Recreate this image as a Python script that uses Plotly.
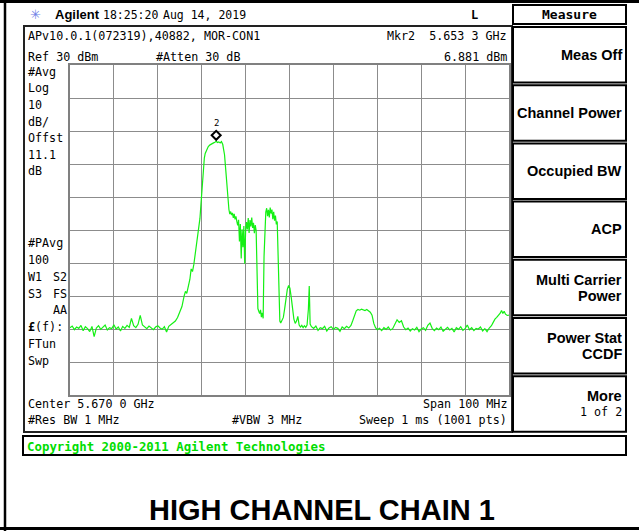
import plotly.graph_objects as go

W, H = 639, 531

start_mhz = 5620.0          # center 5.670 GHz, span 100 MHz
stop_mhz = 5720.0
ref_dbm = 30
bottom_dbm = -70
mkr_mhz = 5653.3
mkr_dbm = 6.881

# trace segments: offset from start (MHz) and level (dBm)
floor_a_mhz = [0, 0.5, 1, 1.5, 2, 2.5, 3, 3.5, 4, 4.5, 5, 5.5, 6, 6.5, 7, 7.5, 8, 8.5, 9, 9.5,
               10, 10.5, 11, 11.5, 12, 12.5, 13, 13.5, 14, 14.5, 15, 15.5, 16, 16.5, 17, 17.5,
               18, 18.5, 19, 19.5, 20, 20.5, 21, 21.5, 22, 22.5]
floor_a_dbm = [-49.6, -49.1, -50.2, -49.4, -49.8, -48.9, -50.5, -49.3, -49.9, -50.8, -49.2, -52.3,
               -49.7, -49.0, -50.1, -49.5, -48.8, -50.3, -49.6, -49.9, -48.7, -50.0, -49.4, -50.6,
               -49.2, -49.8, -48.9, -49.5, -46.8, -49.0, -49.6, -48.6, -45.9, -48.8, -49.3, -49.9,
               -49.1, -49.6, -50.2, -49.4, -49.0, -49.7, -50.1, -49.3, -50.9, -49.2]

carrier_mhz = [23, 23.5, 24, 24.5, 25, 25.5, 26, 26.3, 26.6, 27, 27.3, 27.6, 27.9, 28.2, 28.5,
               28.8, 29.1, 29.4, 29.6, 29.8, 30, 30.2, 30.4, 30.6, 30.8, 31.1, 31.5, 31.9, 32.3,
               32.7, 33, 33.3, 33.6, 33.9, 34.2, 34.5, 34.8, 35, 35.2, 35.4, 35.6, 35.8]
carrier_dbm = [-48.7, -48.3, -47.6, -46.5, -45.0, -43.2, -40.0, -38.6, -39.2, -37.2, -35.0, -31.8,
               -32.6, -30.5, -27.6, -25.0, -22.6, -19.5, -16.5, -12.8, -8.6, -4.2, -1.0, 1.8, 3.2,
               4.4, 5.3, 5.8, 6.2, 6.4, 6.6, 6.88, 6.5, 6.7, 6.4, 6.8, 5.9, 4.5, 2.8, -0.5, -4.0, -7.8]

burst_mhz = [36, 36.2, 36.4, 36.6, 36.8, 37, 37.2, 37.4, 37.6, 37.8, 38, 38.2, 38.4, 38.6, 38.8,
             39, 39.2, 39.4, 39.6, 39.8, 40, 40.2, 40.4, 40.6, 40.8, 41, 41.2, 41.4, 41.6, 41.8,
             42, 42.2, 42.4, 42.6, 42.8, 43, 43.2, 43.4, 43.6, 43.8, 44, 44.2, 44.4, 44.6, 44.8,
             45, 45.2, 45.4, 45.6, 45.8, 46, 46.2, 46.4, 46.6, 46.8, 47, 47.2, 47.4, 47.6, 47.8]
burst_dbm = [-11.5, -13.8, -15.2, -14.4, -15.5, -14.8, -16.3, -15.1, -16.8, -15.9, -17.4, -18.6,
             -16.9, -23.5, -18.2, -28.6, -19.8, -25.2, -18.8, -30.2, -20.4, -17.6, -19.8, -16.4,
             -20.9, -17.0, -18.9, -16.2, -19.4, -17.8, -21.0, -18.5, -20.2, -30.5, -43.8, -44.6,
             -45.3, -44.2, -46.4, -45.1, -46.8, -28.0, -17.0, -14.6, -13.4, -15.8, -13.9, -16.2,
             -13.2, -15.0, -13.8, -16.7, -14.5, -17.2, -15.6, -18.3, -17.4, -30.0, -44.5, -47.6]

tail_mhz = [48, 48.3, 48.6, 48.9, 49.2, 49.5, 49.8, 50.1, 50.4, 50.7, 51, 51.3, 51.6, 51.9, 52.2,
            52.5, 52.8, 53.1, 53.4, 53.7, 54, 54.3, 54.5, 54.7, 55]
tail_dbm = [-48.2, -47.0, -46.5, -43.8, -40.8, -38.0, -36.8, -37.6, -40.5, -44.8, -47.0, -48.3,
            -47.6, -46.2, -48.8, -49.4, -48.9, -49.6, -49.0, -49.5, -48.8, -44.0, -37.0, -48.5, -49.3]

floor_b_mhz = [55.5, 56, 56.5, 57, 57.5, 58, 58.5, 59, 59.5, 60, 60.5, 61, 61.5, 62, 62.5, 63, 63.5]
floor_b_dbm = [-49.8, -49.1, -50.4, -49.6, -49.9, -49.2, -50.6, -49.7, -49.3, -50.1, -49.5, -49.8,
               -50.7, -49.4, -49.9, -49.2, -49.7]

bump_mhz = [64, 64.4, 64.8, 65.2, 65.6, 66, 66.4, 66.8, 67.2, 67.6, 68, 68.4, 68.8, 69.2, 69.6, 70]
bump_dbm = [-48.9, -47.5, -45.6, -44.5, -44.1, -44.3, -44.0, -44.2, -44.4, -44.1, -44.5, -44.9,
            -45.8, -48.3, -49.6, -50.2]

floor_c_mhz = [70.5, 71, 71.5, 72, 72.5, 73, 73.5, 74, 74.5, 75, 75.5, 76, 76.5, 77, 77.5, 78,
               78.5, 79, 79.5, 80, 80.5, 81, 81.5, 82, 82.5, 83, 83.5, 84, 84.5, 85, 85.5, 86,
               86.5, 87, 87.5, 88, 88.5, 89, 89.5, 90, 90.5, 91, 91.5, 92, 92.5, 93, 93.5, 94,
               94.5, 95, 95.5]
floor_c_dbm = [-49.8, -50.5, -49.6, -50.1, -49.4, -50.3, -49.9, -48.6, -47.2, -48.0, -47.5, -49.4,
               -50.2, -49.7, -50.6, -49.9, -50.3, -49.5, -50.8, -50.0, -49.6, -50.4, -48.9, -48.2,
               -49.8, -50.5, -49.7, -50.2, -49.4, -50.7, -50.0, -49.5, -50.3, -49.8, -50.9, -49.6,
               -50.1, -49.3, -50.4, -49.9, -48.8, -50.2, -49.6, -50.5, -49.8, -50.0, -49.4, -50.6,
               -49.9, -50.8, -49.7]

edge_mhz = [96, 96.4, 96.8, 97.2, 97.6, 98, 98.3, 98.6, 98.9, 99.2, 99.6, 100]
edge_dbm = [-49.0, -48.0, -47.0, -46.5, -46.0, -45.2, -44.4, -45.3, -44.6, -45.5, -45.9, -45.8]

offsets = (floor_a_mhz + carrier_mhz + burst_mhz + tail_mhz + floor_b_mhz + bump_mhz
           + floor_c_mhz + edge_mhz)
levels = (floor_a_dbm + carrier_dbm + burst_dbm + tail_dbm + floor_b_dbm + bump_dbm
          + floor_c_dbm + edge_dbm)
freqs = [start_mhz + o for o in offsets]

# ---------------- layout helpers (pixel -> paper) ----------------
def X(x):
    return x / W

def Y(y):
    return 1 - y / H

MONO = "DejaVu Sans Mono"
SANS = "Liberation Sans"

shapes = []
annotations = []

def rect(x0, y0, x1, y1, w=2, color="black"):
    shapes.append(dict(type="rect", xref="paper", yref="paper", x0=X(x0), x1=X(x1),
                       y0=Y(y1), y1=Y(y0), line=dict(color=color, width=w), layer="above"))

def line(x0, y0, x1, y1, w=2, color="black"):
    shapes.append(dict(type="line", xref="paper", yref="paper", x0=X(x0), x1=X(x1),
                       y0=Y(y0), y1=Y(y1), line=dict(color=color, width=w), layer="above"))

def txt(s, x, y, anchor="left", size=11.7, family=MONO, color="black", bold=False):
    if bold:
        s = "<b>" + s + "</b>"
    annotations.append(dict(text=s, x=X(x), y=Y(y), xref="paper", yref="paper",
                            xanchor=anchor, yanchor="middle", showarrow=False,
                            font=dict(family=family, size=size, color=color),
                            borderpad=0))

# outer frame
line(5, 0, 5, 531, w=2.5)
line(0, 1.5, 639, 1.5, w=3)
line(0, 528.5, 639, 528.5, w=3)

# header
txt("✳", 35, 15, anchor="center", size=13, family="DejaVu Sans", color="#6f7fe6")
txt("Agilent", 54, 15, size=13, family=SANS, bold=True)
txt("18:25:20", 102, 15, size=11.5)
txt("Aug 14, 2019", 162, 15, size=11.5)
txt("L", 474, 15, anchor="center", size=12, bold=True)

# screen box
rect(24, 26, 512, 432, w=2, color="#222222")

# screen texts
txt("APv10.0.1(072319),40882, MOR-CON1", 27, 36)
txt("Mkr2  5.653 3 GHz", 508, 36, anchor="right")
txt("Ref 30 dBm", 27, 57)
txt("#Atten 30 dB", 155, 57)
txt("6.881 dBm", 508, 57, anchor="right")

left_top = ["#Avg", "Log", "10", "dB/", "Offst", "11.1", "dB"]
for i, s in enumerate(left_top):
    txt(s, 27, 72 + 16.5 * i)
txt("#PAvg", 27, 243)
txt("100", 27, 260)
txt("W1", 27, 277)
txt("S2", 68, 277, anchor="right")
txt("S3", 27, 294)
txt("FS", 68, 294, anchor="right")
txt("AA", 68, 310, anchor="right")
txt("<b>£</b>(f):", 27, 327)
txt("FTun", 27, 344)
txt("Swp", 27, 361)

txt("Center 5.670 0 GHz", 27, 404)
txt("Span 100 MHz", 508, 404, anchor="right")
txt("#Res BW 1 MHz", 27, 420)
txt("#VBW 3 MHz", 231, 420)
txt("Sweep 1 ms (1001 pts)", 508, 420, anchor="right")

# copyright box
rect(23, 436, 626, 455, w=2)
txt("Copyright 2000-2011 Agilent Technologies", 26, 446, size=12.4, color="#00dd00", bold=True)

# softkeys
rect(513, 5, 626, 24, w=2)
txt("Measure", 569.5, 15, anchor="center", size=13, family=MONO, bold=True)
softkeys = [["Meas Off"], ["Channel Power"], ["Occupied BW"], ["ACP"],
            ["Multi Carrier", "Power"], ["Power Stat", "CCDF"], ["More", "1 of 2"]]
for i, lines_ in enumerate(softkeys):
    top = 27 + 58.2 * i
    bot = top + 55.5
    rect(513, top, 626, bot, w=2)
    cy = (top + bot) / 2
    if len(lines_) == 1:
        txt(lines_[0], 623, cy, anchor="right", size=14.5, family=SANS, bold=True)
    else:
        txt(lines_[0], 623, cy - 8, anchor="right", size=14.5, family=SANS, bold=True)
        if lines_[1] == "1 of 2":
            txt(lines_[1], 623, cy + 8, anchor="right", size=11.7)
        else:
            txt(lines_[1], 623, cy + 8, anchor="right", size=14.5, family=SANS, bold=True)

# title
txt("HIGH CHANNEL CHAIN 1", 322, 510, anchor="center", size=29, family=SANS, bold=True)

# marker: diamond sitting just above the marked point, sized in pixels
shapes.append(dict(type="path", xref="x", yref="y", xsizemode="pixel", ysizemode="pixel",
                   xanchor=mkr_mhz, yanchor=mkr_dbm,
                   path="M-4.5,6 L0,10.5 L4.5,6 L0,1.5 Z",
                   line=dict(color="black", width=2), fillcolor="white", layer="above"))
annotations.append(dict(text="2", x=mkr_mhz, y=mkr_dbm, xref="x", yref="y",
                        showarrow=False, yshift=18, font=dict(family=MONO, size=9, color="black")))

fig = go.Figure()
fig.add_trace(go.Scatter(x=freqs, y=levels, mode="lines",
                         line=dict(color="#14f014", width=1.2), hoverinfo="skip"))

grid = "#8c8c8c"
fig.update_layout(
    width=W, height=H, autosize=False,
    margin=dict(l=0, r=0, t=0, b=0),
    paper_bgcolor="white", plot_bgcolor="white",
    showlegend=False,
    xaxis=dict(domain=[X(70), X(509)], range=[start_mhz, stop_mhz], dtick=10, tick0=start_mhz,
               showgrid=True, gridcolor=grid, gridwidth=1.3, zeroline=False,
               showticklabels=False, ticks="", showline=True, linecolor="#808080",
               linewidth=2, mirror=True, fixedrange=True),
    yaxis=dict(domain=[Y(395), Y(65)], range=[bottom_dbm, ref_dbm], dtick=10, tick0=ref_dbm,
               showgrid=True, gridcolor=grid, gridwidth=1.3, zeroline=False,
               showticklabels=False, ticks="", showline=True, linecolor="#808080",
               linewidth=2, mirror=True, fixedrange=True),
    shapes=shapes,
    annotations=annotations,
)

fig.write_html("out.html", config={"displayModeBar": False},
               post_script="document.body.style.margin='0';document.body.style.overflow='hidden';")
